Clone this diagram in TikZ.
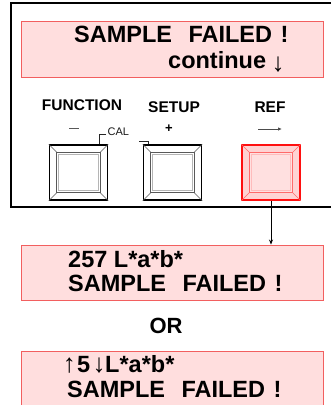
\documentclass[tikz,border=0pt]{standalone}
\usepackage{fontspec}
\setmainfont{Liberation Sans}
\usetikzlibrary{arrows.meta}
\definecolor{dispfill}{HTML}{FFDEDE}
\definecolor{displine}{HTML}{F25F5F}
\definecolor{keyred}{HTML}{FF1010}
\definecolor{keyfill}{HTML}{FFD3D3}
\definecolor{keyin}{HTML}{FFE0E0}
\definecolor{keyinline}{HTML}{FF6A6A}
\newcommand\keybtn[6]{%
  \node[draw=#3, fill=#4, line width=1.5pt, minimum width=58pt, minimum height=55pt, inner sep=0pt] (#1) at (#2,172.5) {};
  \draw[#5, line width=0.6pt] (#1.north west) -- ++(8,8) (#1.north east) -- ++(-8,8)
        (#1.south west) -- ++(8,-8) (#1.south east) -- ++(-8,-8);
  \draw[#5, fill=#6, line width=1pt] ([shift={(8,8)}]#1.north west) rectangle ([shift={(-8,-8)}]#1.south east);
  \draw[#5!45, line width=0.6pt] ([shift={(10,10)}]#1.north west) rectangle ([shift={(-10,-10)}]#1.south east);
}
\begin{document}
\begin{tikzpicture}[x=1pt,y=-1pt,
  disp/.style={draw=displine, fill=dispfill, line width=0.9pt, rectangle, inner sep=0pt},
  big/.style={font=\fontsize{23.5}{24}\selectfont\bfseries, inner sep=0pt, anchor=base west},
  lbl/.style={font=\fontsize{15.5}{16}\selectfont\bfseries, inner sep=0pt, anchor=base},
  arrowtxt/.style={font=\fontsize{26}{26}\selectfont, inner sep=0pt, anchor=center}]
\useasboundingbox (0,0) rectangle (331,405);
\fill[white] (0,0) rectangle (331,405);
\begin{scope}
\clip (0,0) rectangle (331,405);
% panel frame
\draw[line width=1.2pt] (331,3) -- (11,3) -- (11,207) -- (331,207);
% displays
\node[disp, minimum width=302pt, minimum height=56pt] (d1) at (172,49) {};
\node[disp, minimum width=302pt, minimum height=55pt] (d2) at (172,272.5) {};
\node[disp, minimum width=302pt, minimum height=70pt] (d3) at (172,386) {};
\end{scope}
% display 1 text
\node[big] (t1) at (74,42) {SAMPLE\hspace{0.7em}FAILED\hspace{0.36em}!};
\node[big] (t2) at (168,68) {continue};
\node[arrowtxt] (t2a) at (278,65) {↓};
% labels
\node[lbl] (fn) at (82,110.7) {FUNCTION};
\node[lbl] (su) at (174,112.5) {SETUP};
\node[lbl] (rf) at (270,112.5) {REF};
\draw[gray!70!black, line width=1pt] (69,128) -- (79,128);
\node[font=\fontsize{13}{13}\selectfont\bfseries, inner sep=0pt] (plus) at (169,129) {+};
\draw[gray!60!black, line width=0.9pt, -{Latex[length=4pt,width=3.5pt]}] (258,129) -- (282,129);
\node[font=\fontsize{11}{11}\selectfont, inner sep=0pt, anchor=base west, gray!20!black] (cal) at (107.5,135) {CAL};
\draw[line width=0.7pt, gray!30!black] (106,134.5) -| (99.5,146);
\draw[line width=0.7pt, gray!30!black] (139,141.5) -| (148.5,146);
% keys
\keybtn{k1}{78.5}{black}{white}{gray!70!black}{white}
\keybtn{k2}{172.5}{black}{white}{gray!70!black}{white}
\keybtn{k3}{271}{keyred}{keyfill}{keyinline}{keyin}
% arrow to display 2
\draw[line width=0.7pt, -{Stealth[length=5pt,width=4pt]}] (k3.south) -- (k3.south |- d2.north);
% display 2 text
\node[big] (t3) at (68,267) {257 L*a*b*};
\node[big] (t4) at (68,291) {SAMPLE\hspace{0.7em}FAILED\hspace{0.36em}!};
% OR
\node[font=\fontsize{22}{22}\selectfont\bfseries, inner sep=0pt] (or) at (166,326) {OR};
% display 3 text
\node[arrowtxt] (up) at (69.5,366) {↑};
\node[big] (five) at (77,372) {5};
\node[arrowtxt] (dn) at (99,366) {↓};
\node[big] (t5) at (105,372) {L*a*b*};
\node[big] (t6) at (67,397) {SAMPLE\hspace{0.7em}FAILED\hspace{0.36em}!};
\end{tikzpicture}
\end{document}
